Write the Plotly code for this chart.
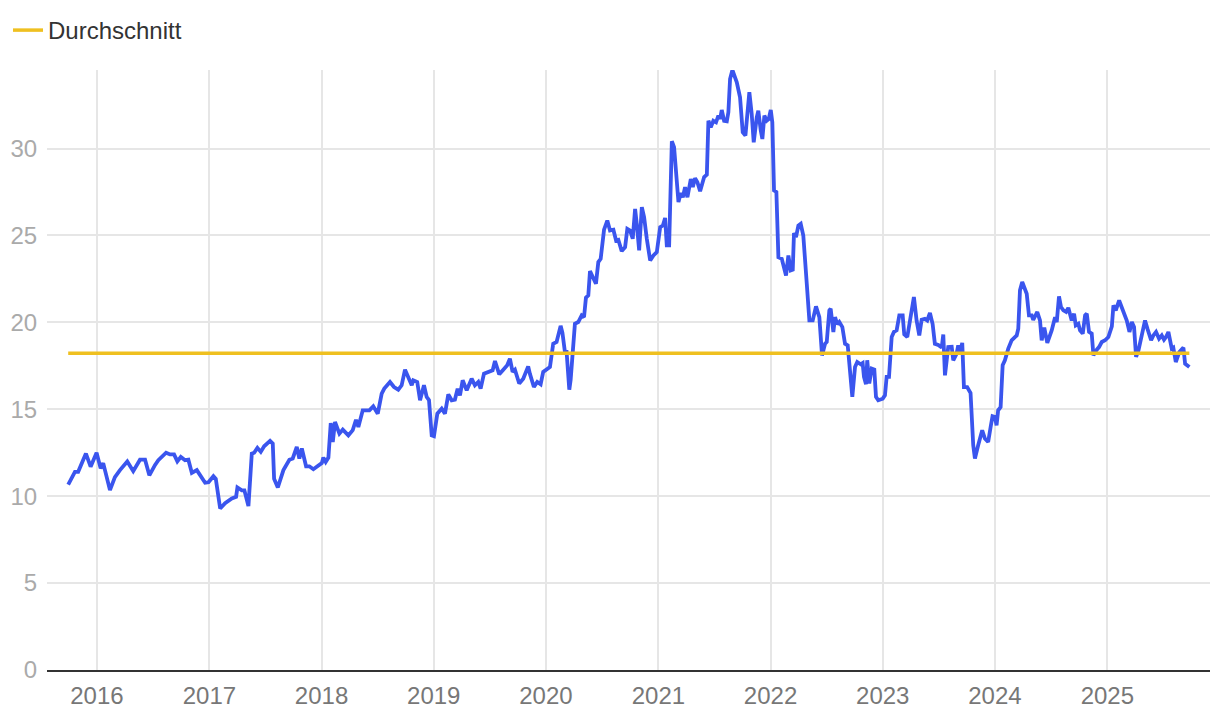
import pandas as pd
import plotly.graph_objects as go

# decimal years (time) and values
years = [
2015.744,2015.804,2015.833,2015.902,2015.944,2015.997,2016.033,2016.056,2016.116,2016.160,
2016.205,2016.270,2016.323,2016.383,2016.428,2016.466,2016.517,2016.546,2016.615,2016.650,
2016.686,2016.715,2016.746,2016.784,2016.813,2016.844,2016.888,2016.933,2016.962,2016.992,
2017.036,2017.057,2017.096,2017.140,2017.200,2017.238,2017.250,2017.289,2017.312,2017.348,
2017.378,2017.399,2017.428,2017.458,2017.488,2017.541,2017.565,2017.577,2017.610,2017.660,
2017.713,2017.743,2017.779,2017.802,2017.824,2017.862,2017.891,2017.927,2017.971,2018.002,
2018.016,2018.037,2018.061,2018.082,2018.100,2018.120,2018.159,2018.189,2018.239,2018.278,
2018.307,2018.328,2018.367,2018.426,2018.461,2018.501,2018.536,2018.559,2018.610,2018.646,
2018.684,2018.714,2018.744,2018.764,2018.804,2018.818,2018.853,2018.878,2018.913,2018.937,
2018.958,2018.982,2019.002,2019.032,2019.071,2019.100,2019.130,2019.160,2019.189,2019.213,
2019.234,2019.258,2019.294,2019.338,2019.367,2019.397,2019.418,2019.448,2019.486,2019.525,
2019.546,2019.584,2019.620,2019.655,2019.679,2019.703,2019.724,2019.762,2019.798,2019.842,
2019.857,2019.893,2019.923,2019.953,2019.976,2020.012,2020.036,2020.065,2020.095,2020.131,
2020.147,2020.169,2020.184,2020.208,2020.220,2020.258,2020.288,2020.318,2020.339,2020.356,
2020.377,2020.392,2020.416,2020.445,2020.466,2020.487,2020.517,2020.546,2020.570,2020.600,
2020.624,2020.644,2020.674,2020.704,2020.724,2020.748,2020.772,2020.793,2020.808,2020.829,
2020.853,2020.873,2020.897,2020.927,2020.956,2020.986,2021.016,2021.040,2021.060,2021.075,
2021.096,2021.120,2021.140,2021.179,2021.200,2021.218,2021.238,2021.259,2021.289,2021.307,
2021.327,2021.348,2021.372,2021.408,2021.432,2021.446,2021.467,2021.490,2021.514,2021.535,
2021.550,2021.565,2021.586,2021.610,2021.624,2021.639,2021.660,2021.699,2021.728,2021.752,
2021.776,2021.793,2021.811,2021.832,2021.850,2021.877,2021.891,2021.913,2021.927,2021.945,
2021.966,2021.984,2022.002,2022.016,2022.031,2022.052,2022.070,2022.100,2022.138,2022.159,
2022.180,2022.198,2022.209,2022.227,2022.248,2022.269,2022.292,2022.323,2022.346,2022.376,
2022.405,2022.435,2022.459,2022.486,2022.501,2022.524,2022.536,2022.560,2022.575,2022.595,
2022.613,2022.640,2022.664,2022.688,2022.708,2022.729,2022.753,2022.773,2022.804,2022.821,
2022.833,2022.851,2022.862,2022.880,2022.902,2022.925,2022.940,2022.960,2023.000,2023.020,
2023.035,2023.056,2023.080,2023.100,2023.124,2023.148,2023.178,2023.192,2023.219,2023.249,
2023.278,2023.302,2023.326,2023.347,2023.376,2023.397,2023.421,2023.445,2023.465,2023.495,
2023.526,2023.540,2023.555,2023.584,2023.615,2023.629,2023.659,2023.673,2023.688,2023.709,
2023.724,2023.753,2023.783,2023.807,2023.822,2023.851,2023.866,2023.887,2023.911,2023.940,
2023.962,2023.979,2024.000,2024.015,2024.029,2024.051,2024.069,2024.089,2024.119,2024.149,
2024.194,2024.208,2024.223,2024.243,2024.283,2024.303,2024.327,2024.341,2024.377,2024.401,
2024.416,2024.439,2024.466,2024.505,2024.535,2024.550,2024.570,2024.588,2024.609,2024.633,
2024.653,2024.683,2024.704,2024.719,2024.742,2024.757,2024.781,2024.802,2024.817,2024.837,
2024.861,2024.876,2024.906,2024.926,2024.950,2024.980,2025.009,2025.040,2025.054,2025.075,
2025.105,2025.143,2025.173,2025.197,2025.218,2025.238,2025.256,2025.277,2025.301,2025.336,
2025.357,2025.390,2025.410,2025.434,2025.461,2025.485,2025.505,2025.523,2025.544,2025.574,
2025.588,2025.610,2025.642,2025.678,2025.693,2025.731,
]
values = [
10.67,11.4,11.4,12.45,11.7,12.5,11.6,11.9,10.35,11.1,
11.5,12.0,11.44,12.1,12.1,11.2,11.8,12.07,12.5,12.4,
12.4,12.0,12.26,12.07,12.1,11.34,11.5,11.1,10.77,10.8,
11.15,11.0,9.29,9.6,9.87,9.96,10.5,10.34,10.34,9.43,
12.45,12.5,12.78,12.55,12.87,13.18,13.03,11.0,10.5,11.5,
12.1,12.17,12.83,12.17,12.74,11.72,11.72,11.55,11.78,11.9,
12.22,11.97,12.22,14.21,13.12,14.27,13.6,13.83,13.5,13.8,
14.4,13.98,14.94,14.94,15.17,14.75,15.9,16.19,16.57,16.28,
16.13,16.38,17.28,16.95,16.38,16.67,16.57,15.52,16.38,15.71,
15.52,13.5,13.45,14.75,15.04,14.75,15.86,15.52,15.56,16.19,
15.8,16.67,16.09,16.76,16.38,16.57,16.19,17.05,17.15,17.24,
17.78,17.01,17.28,17.53,17.91,17.15,17.28,16.48,16.76,17.47,
17.05,16.28,16.57,16.44,17.15,17.34,17.43,18.77,18.87,19.8,
19.4,18.3,18.3,16.13,16.7,19.92,20.02,20.4,20.3,21.42,
21.55,22.95,22.6,22.22,23.47,23.66,25.33,25.86,25.29,25.33,
24.71,24.75,24.1,24.33,25.38,25.29,24.81,26.53,25.67,24.14,
26.63,26.06,24.81,23.56,23.85,24.04,25.48,25.57,26.01,24.43,
24.43,30.42,30.08,26.92,27.44,27.2,27.78,27.2,28.25,27.78,
28.3,28.06,27.55,28.36,28.5,31.6,31.22,31.6,31.51,31.9,
31.7,32.22,31.6,31.57,32.09,34.0,34.52,33.81,32.95,30.94,
30.75,32.18,33.24,31.99,30.36,31.8,32.18,31.03,30.55,31.9,
31.6,31.7,32.22,31.51,27.59,27.5,23.75,23.66,22.7,23.85,
22.99,23.03,25.14,24.91,25.57,25.67,25.0,22.22,20.11,20.11,
20.92,20.3,18.1,18.77,18.87,20.69,20.79,19.45,20.3,19.89,
20.02,19.73,18.77,18.68,17.43,15.71,17.43,17.72,17.59,17.66,
16.86,16.44,17.82,16.48,17.34,17.28,15.71,15.52,15.61,15.8,
16.86,16.86,19.16,19.45,19.54,20.4,20.4,19.31,19.16,20.5,
21.46,20.11,19.25,20.15,20.2,20.11,20.55,19.9,18.77,18.7,
18.55,19.3,16.95,18.58,18.6,17.82,18.2,18.68,18.3,18.82,
16.28,16.28,15.94,12.93,12.17,12.93,13.26,13.79,13.32,13.12,
13.98,14.6,14.56,14.08,14.94,15.13,17.53,17.82,18.49,18.97,
19.25,19.64,21.84,22.32,21.65,20.4,20.4,20.15,20.6,20.11,
18.97,19.7,18.82,19.54,20.3,20.02,21.49,20.88,20.69,20.6,
20.84,20.11,20.5,19.83,19.92,19.54,19.35,20.4,20.5,19.45,
19.35,18.1,18.43,18.58,18.87,18.97,19.16,19.77,20.98,20.69,
21.26,20.6,20.11,19.45,20.02,19.73,18.01,18.39,19.06,20.11,
19.64,18.97,19.25,19.45,19.06,19.25,19.0,19.16,19.45,18.49,
18.55,17.72,18.3,18.55,17.62,17.43,
]
average_value = 18.22
average_name = "Durchschnitt"
x_range_years = [2015.555, 2025.915]
y_ticks = [0, 5, 10, 15, 20, 25, 30]
x_tick_years = list(range(2016, 2026))


def to_date(y):
    yi = int(y)
    start = pd.Timestamp(year=yi, month=1, day=1)
    end = pd.Timestamp(year=yi + 1, month=1, day=1)
    return start + (end - start) * (y - yi)


dates = [to_date(y) for y in years]
x_range = [to_date(y) for y in x_range_years]
tick_vals = [pd.Timestamp(year=y, month=1, day=1) for y in x_tick_years]
tick_text = [str(y) for y in x_tick_years]

font_family = "Liberation Sans, Arial, sans-serif"

fig = go.Figure()
fig.add_trace(go.Scatter(
    x=dates, y=values, mode="lines",
    line=dict(color="#3a55ee", width=3.8),
    showlegend=False, cliponaxis=False, hoverinfo="x+y",
))
fig.add_trace(go.Scatter(
    x=[dates[0], dates[-1]], y=[average_value, average_value], mode="lines",
    line=dict(color="#efc020", width=3.5),
    name=average_name, showlegend=True, cliponaxis=False,
))

fig.update_layout(
    width=1220, height=716,
    margin=dict(l=39, r=18, t=62, b=54),
    paper_bgcolor="white", plot_bgcolor="white",
    font=dict(family=font_family, size=24, color="#333333"),
    legend=dict(
        xref="container", yref="container", x=-0.002, y=1.0,
        xanchor="left", yanchor="top", orientation="h",
        font=dict(size=24, color="#333333"),
        itemwidth=30, tracegroupgap=0,
        bgcolor="rgba(0,0,0,0)",
    ),
    xaxis=dict(
        type="date", range=x_range, automargin=False,
        tickvals=tick_vals, ticktext=tick_text,
        showgrid=True, gridcolor="#e6e6e6", gridwidth=1.5,
        showline=True, linecolor="#333333", linewidth=2,
        ticks="outside", ticklen=3, tickcolor="rgba(0,0,0,0)",
        tickfont=dict(size=24, color="#777777"),
        zeroline=False,
    ),
    yaxis=dict(
        range=[0, 34.52], automargin=False,
        tickvals=y_ticks,
        showgrid=True, gridcolor="#e6e6e6", gridwidth=1.5,
        showline=False, zeroline=False,
        ticks="outside", ticklen=4, tickcolor="rgba(0,0,0,0)",
        tickfont=dict(size=24, color="#aaaaaa"),
    ),
)

fig.write_html("out.html")
